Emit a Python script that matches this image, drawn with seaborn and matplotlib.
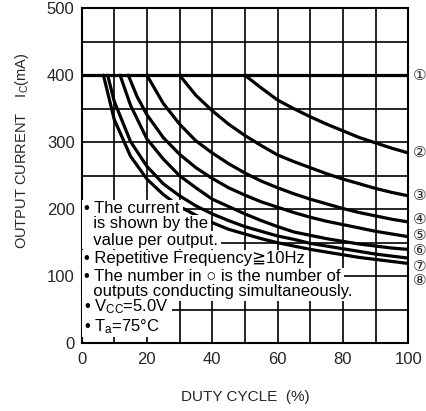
import numpy as np
import pandas as pd
import matplotlib
matplotlib.use("Agg")
import matplotlib.pyplot as plt
from matplotlib.patches import Rectangle
import seaborn as sns

# duty cycle (%) / output current (mA), one pair per curve
duty_1 = [0, 100]
curr_1 = [400, 400]

duty_2 = [50, 55, 60, 65, 70, 75, 80, 85, 90, 95, 100]
curr_2 = [400, 381, 363, 350, 338, 327, 317, 307, 299, 291, 284]

duty_3 = [30, 35, 40, 45, 50, 55, 60, 65, 70, 75, 80, 85, 90, 95, 100]
curr_3 = [400, 370, 347, 327, 310, 295, 281, 271, 262, 253, 245, 238, 231, 225, 220]

duty_4 = [20, 25, 30, 35, 40, 45, 50, 55, 60, 65, 70, 75, 80, 85, 90, 95, 100]
curr_4 = [400, 358, 327, 302, 284, 268, 254, 242, 232, 223, 215, 208, 201, 195, 190, 185, 181]

duty_5 = [14.3, 17, 20, 25, 30, 35, 40, 45, 50, 55, 60, 65, 70, 75, 80, 85, 90, 95, 100]
curr_5 = [400, 368, 341, 307, 282, 262, 246, 232, 221, 211, 203, 195, 188, 182, 177, 172, 167, 163, 159]

duty_6 = [11.8, 15, 20, 25, 30, 35, 40, 45, 50, 55, 60, 65, 70, 75, 80, 85, 90, 95, 100]
curr_6 = [400, 355, 305, 275, 250, 232, 215, 204, 193, 183, 174, 166, 161, 156, 152, 148, 145, 142, 140]

duty_7 = [8, 10, 15, 20, 25, 30, 35, 40, 45, 50, 55, 60, 65, 70, 75, 80, 85, 90, 95, 100]
curr_7 = [400, 361, 301, 264, 238, 220, 205, 193, 183, 174, 167, 160, 155, 149, 145, 141, 137, 133, 130, 127]

duty_8 = [6.7, 10, 15, 20, 25, 30, 35, 40, 45, 50, 55, 60, 65, 70, 75, 80, 85, 90, 95, 100]
curr_8 = [400, 334, 279, 245, 222, 204, 191, 180, 170, 163, 156, 150, 145, 140, 136, 132, 128, 125, 122, 119]

curve_names = ["①", "②", "③", "④", "⑤", "⑥", "⑦", "⑧"]
x_ticks = [0, 20, 40, 60, 80, 100]
y_ticks = [0, 100, 200, 300, 400, 500]

notes = [
    "• The current",
    "  is shown by the",
    "  value per output.",
    "• Repetitive Frequency≧10Hz",
    "• The number in ○ is the number of",
    "  outputs conducting simultaneously.",
    "• V$_{\\rm CC}$=5.0V",
    "• T$_{\\rm a}$=75°C",
]

# build one long table for seaborn
duties = [duty_1, duty_2, duty_3, duty_4, duty_5, duty_6, duty_7, duty_8]
currs = [curr_1, curr_2, curr_3, curr_4, curr_5, curr_6, curr_7, curr_8]
rows = []
for name, d, c in zip(curve_names, duties, currs):
    for dx, cy in zip(d, c):
        rows.append({"curve": name, "duty": dx, "current": cy})
df = pd.DataFrame(rows)

sns.set_style("white")
plt.rcParams["font.family"] = ["Liberation Sans", "DejaVu Sans", "Noto Sans CJK JP"]
plt.rcParams["mathtext.fontset"] = "custom"
plt.rcParams["mathtext.rm"] = "Liberation Sans"
plt.rcParams["mathtext.it"] = "Liberation Sans:italic"

fig = plt.figure(figsize=(4.27, 4.11), dpi=100)
ax = fig.add_axes([0.191, 0.165, 0.765, 0.815])

sns.lineplot(data=df, x="duty", y="current", hue="curve", units="curve",
             estimator=None, sort=False, palette=["black"] * 8,
             linewidth=2.3, legend=False, ax=ax, zorder=3)

ax.set_xlim(0, 100)
ax.set_ylim(0, 500)
ax.set_xticks(x_ticks)
ax.set_xticks(np.arange(0, 101, 10), minor=True)
ax.set_yticks(y_ticks)
ax.set_yticks(np.arange(0, 501, 50), minor=True)
ax.grid(True, which="both", color="black", linewidth=1.2)
ax.set_axisbelow(True)
for s in ax.spines.values():
    s.set_color("black")
    s.set_linewidth(1.5)
ax.tick_params(axis="x", which="both", length=0, pad=6, labelsize=12)
ax.tick_params(axis="y", which="major", length=3, width=1.2, direction="out",
               pad=2, labelsize=12)
ax.tick_params(axis="y", which="minor", length=0)

ax.set_xlabel("DUTY CYCLE  (%)", fontsize=11, labelpad=17)
ax.set_ylabel("OUTPUT CURRENT    I$_{\\rm C}$(mA)", fontsize=10.5)
ax.yaxis.set_label_coords(-0.155, 0.575)

# circled curve numbers on the right
label_y = [400, 284, 221, 184, 161, 139, 115, 94]
for name, ly in zip(curve_names, label_y):
    ax.text(101.3, ly, name, fontsize=11, va="center", ha="left",
            family=["DejaVu Sans", "Noto Sans CJK JP"], clip_on=False)

# notes block on top of the grid
note_y = [201, 178, 154, 126, 99, 77, 54, 25]
note_texts = []
for txt, ny in zip(notes, note_y):
    note_texts.append(ax.text(0.8, ny, txt, fontsize=12, va="center",
                              ha="left", zorder=6, color="black"))

# white boxes behind each note line so grid and curves are hidden there
fig.canvas.draw()
renderer = fig.canvas.get_renderer()
inv = ax.transData.inverted()
for t in note_texts:
    bb = t.get_window_extent(renderer)
    (x0, y0), (x1, y1) = inv.transform([[bb.x0 - 2, bb.y0 - 1.5],
                                        [bb.x1 + 3, bb.y1 + 1.5]])
    ax.add_patch(Rectangle((x0, y0), x1 - x0, y1 - y0, facecolor="white",
                           edgecolor="none", zorder=5))

fig.savefig("out.png", dpi=100)
